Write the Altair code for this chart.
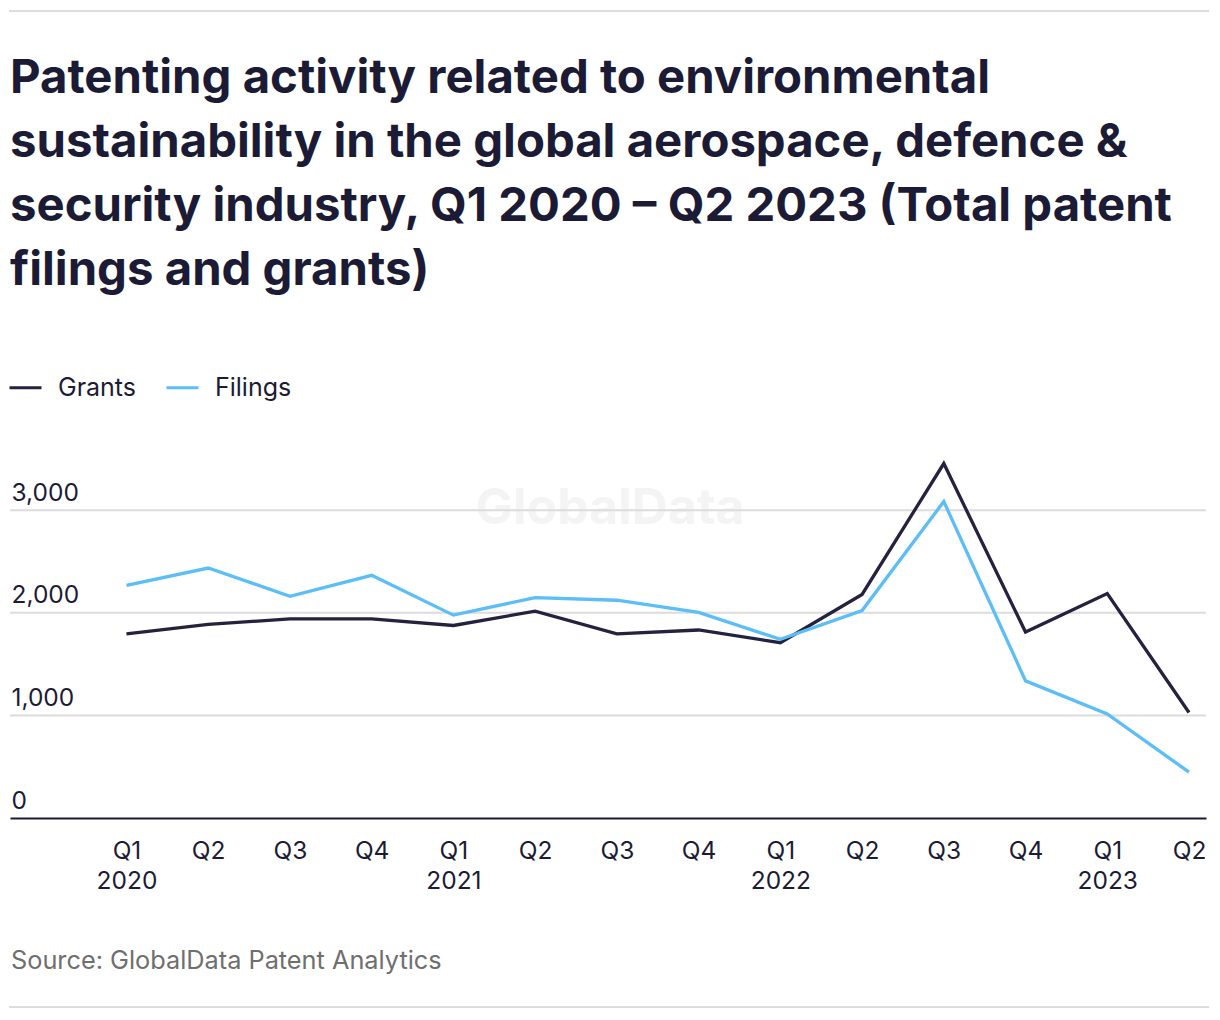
import json
import altair as alt
import pandas as pd

# ---- data ----
quarters = ["Q1 2020", "Q2 2020", "Q3 2020", "Q4 2020",
            "Q1 2021", "Q2 2021", "Q3 2021", "Q4 2021",
            "Q1 2022", "Q2 2022", "Q3 2022", "Q4 2022",
            "Q1 2023", "Q2 2023"]
quarter_labels = ["Q1", "Q2", "Q3", "Q4", "Q1", "Q2", "Q3", "Q4",
                  "Q1", "Q2", "Q3", "Q4", "Q1", "Q2"]
year_labels = ["2020", "", "", "", "2021", "", "", "",
               "2022", "", "", "", "2023", ""]
grants = [1796, 1887, 1942, 1942, 1877, 2016, 1796, 1833,
          1709, 2179, 3456, 1813, 2188, 1029]
filings = [2269, 2437, 2162, 2366, 1978, 2149, 2123, 2004,
           1742, 2023, 3085, 1337, 1014, 447]
series_names = ["Grants", "Filings"]
series_colors = ["#24223f", "#5bbef6"]
y_ticks = [0, 1000, 2000, 3000]

title_lines = [
    "Patenting activity related to environmental",
    "sustainability in the global aerospace, defence &",
    "security industry, Q1 2020 \u2013 Q2 2023 (Total patent",
    "filings and grants)",
]
source_text = "Source: GlobalData Patent Analytics"
watermark = "GlobalData"

# ---- build table ----
rows = []
for i, q in enumerate(quarters):
    rows.append({"idx": i, "quarter": q, "series": "Grants", "value": grants[i]})
    rows.append({"idx": i, "quarter": q, "series": "Filings", "value": filings[i]})
df = pd.DataFrame(rows)

W, H = 1196, 359
TEXT = "#1c1b35"
FONT = "Inter"
TICK_FS = 24.5

label_pairs = [[q, y] for q, y in zip(quarter_labels, year_labels)]
label_expr = json.dumps(label_pairs) + "[datum.value]"

y_scale = alt.Scale(domain=[0, 3500], nice=False, zero=True)
x_scale = alt.Scale(domain=[-1.425, 13.208], nice=False, zero=False)

y_axis = alt.Axis(values=y_ticks, labelExpr="format(datum.value, ',')",
                  grid=False, domain=False,
                  ticks=False, tickSize=0, labelAlign="left",
                  labelBaseline="alphabetic", labelPadding=-1, labelOffset=-10,
                  labelFont=FONT, labelFontSize=TICK_FS, labelColor=TEXT,
                  labelOverlap=False, title=None)

wm = alt.Chart(pd.DataFrame({"t": [watermark]})).mark_text(
    font=FONT, fontSize=50, fontWeight=700, color="#f4f4f4",
    align="center", baseline="middle"
).encode(x=alt.value(600), y=alt.value(50), text="t:N")

grid = alt.Chart(pd.DataFrame({"v": y_ticks[1:]})).mark_rule(
    color="#dcdcdc", strokeWidth=2
).encode(
    y=alt.Y("v:Q", scale=y_scale, axis=y_axis),
    x=alt.value(0), x2=alt.value(W),
)

lines = alt.Chart(df).mark_line(strokeWidth=3.3, strokeJoin="miter").encode(
    x=alt.X("idx:Q", scale=x_scale, title=None,
            axis=alt.Axis(values=list(range(len(quarters))), labelExpr=label_expr,
                          grid=False, ticks=False, tickSize=0, domain=True,
                          domainColor=TEXT, domainWidth=2,
                          labelPadding=21, labelBaseline="top", labelAlign="center",
                          labelFont=FONT, labelFontSize=TICK_FS, labelColor=TEXT,
                          labelLineHeight=30, labelFlush=False, labelOverlap=False)),
    y=alt.Y("value:Q", scale=y_scale, axis=y_axis),
    color=alt.Color("series:N",
                    scale=alt.Scale(domain=series_names, range=series_colors),
                    sort=series_names,
                    legend=alt.Legend(orient="none", legendX=-2, legendY=-89,
                                      direction="horizontal", title=None,
                                      symbolType="stroke", symbolSize=1024,
                                      symbolStrokeWidth=3, labelFont=FONT,
                                      labelFontSize=25, labelColor=TEXT,
                                      labelOffset=15, columnPadding=23, padding=0)),
    order="idx:Q",
)

top_rule = alt.Chart(pd.DataFrame({"a": [0]})).mark_rule(
    color="#dddddd", strokeWidth=2
).encode(x=alt.value(-1), x2=alt.value(1199), y=alt.value(-448))

bottom_rule = alt.Chart(pd.DataFrame({"a": [0]})).mark_rule(
    color="#dddddd", strokeWidth=2
).encode(x=alt.value(-1), x2=alt.value(1199), y=alt.value(548))

source = alt.Chart(pd.DataFrame({"t": [source_text]})).mark_text(
    font=FONT, fontSize=25.3, color="#6f6f6f", align="left", baseline="middle"
).encode(x=alt.value(1), y=alt.value(502), text="t:N")

chart = alt.layer(wm, grid, lines, top_rule, bottom_rule, source).properties(
    width=W, height=H,
    title=alt.Title(text=title_lines, anchor="start", frame="group",
                    font=FONT, fontSize=47.3, fontWeight=700, color=TEXT,
                    lineHeight=64, baseline="bottom", offset=-332),
    padding={"left": 2, "top": 451, "right": 4, "bottom": 190},
    autosize=alt.AutoSizeParams(type="none"),
).configure(background="white").configure_view(stroke=None)

chart.save("out.html", embed_options={"renderer": "svg", "actions": False})
